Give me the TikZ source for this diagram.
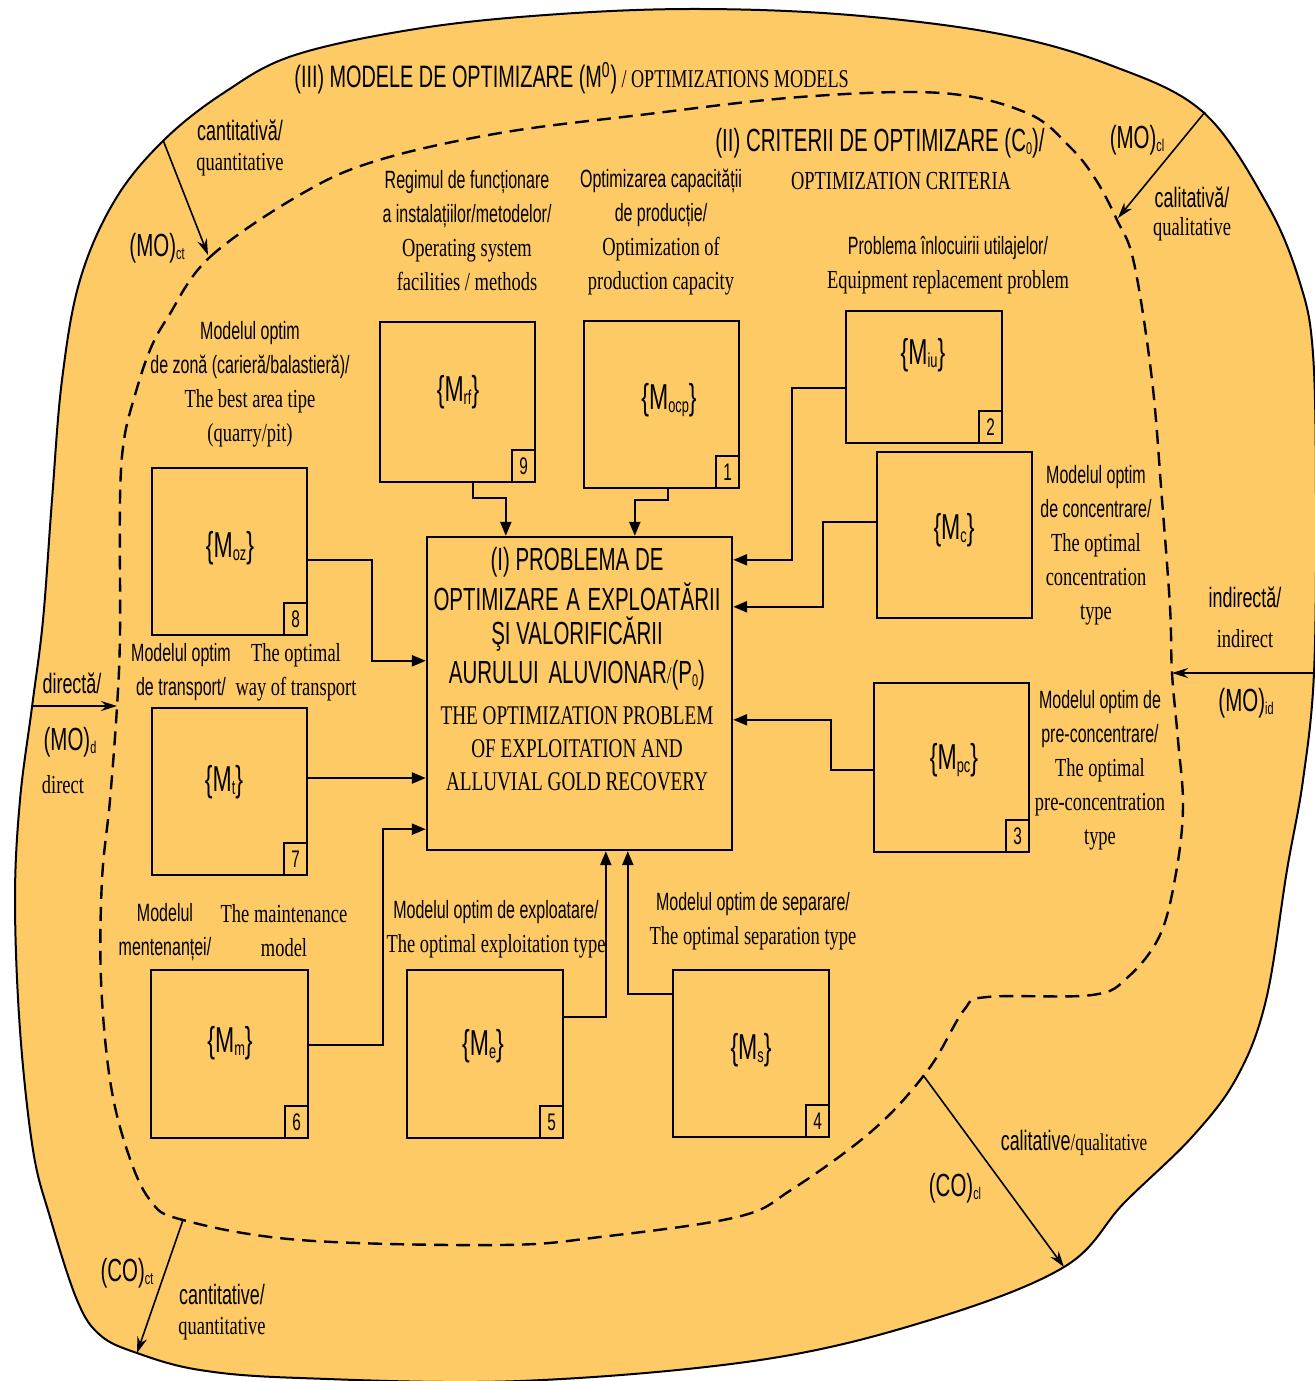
\documentclass[tikz,border=0pt]{standalone}
\usepackage{fontspec}
\usetikzlibrary{arrows.meta,calc}
\newfontfamily\lsansf[FakeStretch=0.64]{Liberation Sans}
\newfontfamily\lseriff[FakeStretch=0.71]{Liberation Serif}
\newcommand\lsans{\lsansf\fontsize{12.5}{17}\selectfont}
\newcommand\lserif{\lseriff\fontsize{13}{17}\selectfont}
\newcommand\lsansL{\lsansf\fontsize{16}{17}\selectfont}
\newcommand\lsansM{\lsansf\fontsize{14}{17}\selectfont}
\newcommand\lserifC{\lseriff\fontsize{13.5}{17}\selectfont}
\newcommand\sbs[1]{\raisebox{-1.5pt}{\fontsize{8.5}{8.5}\selectfont #1}}
\newcommand\mlab[1]{\lsansf\fontsize{18}{18}\selectfont\{M\raisebox{-1.5pt}{\fontsize{10}{10}\selectfont #1}\}}
\definecolor{bg}{RGB}{253,202,102}
\begin{document}
\begin{tikzpicture}[x=0.5pt,y=-0.5pt,
  box/.style={draw, line width=1.2pt, inner sep=0pt},
  numbox/.style={draw, line width=1.1pt, inner sep=0pt, minimum width=11.5pt, minimum height=16pt, anchor=south east, font=\lsansf\fontsize{12}{12}\selectfont},
  conn/.style={line width=1.2pt, -{Triangle[length=7pt,width=5.5pt]}},
  outarr/.style={line width=0.8pt, -{Stealth[length=8pt,width=5pt]}},
  dashline/.style={line width=1.2pt, dash pattern=on 7pt off 4pt},
  txt/.style={align=center, inner sep=0pt, font=\lsans}]
\useasboundingbox (0,0) rectangle (1314,1381);
\fill[white] (0,0) rectangle (1314,1381);
% outer region
\filldraw[fill=bg, draw=black, line width=1pt] plot[smooth cycle, tension=0.6] coordinates {
 (15,900) (20,800) (32,707) (43,620) (52,500) (62,380) (80,280) (115,200) (164,140) (225,92) (295,55) (422,28) (560,14) (700,9) (850,15) (1000,34) (1110,65) (1203,112) (1267,204) (1300,283) (1313,354) (1316,500) (1314,673) (1303,780) (1287,870) (1266,1000) (1237,1077) (1192,1137) (1124,1203) (1064,1267) (930,1320) (760,1360) (520,1381) (300,1378) (200,1370) (137,1353) (100,1335) (77,1300) (50,1217) (33,1150) (20,1030)};
% inner dashed region
\draw[dashline] plot[smooth cycle, tension=0.6] coordinates {
 (168,317) (210,257) (303,193) (379,160) (500,133) (640,115) (800,97) (941,93) (1027,113) (1070,147) (1096,180) (1117,220) (1134,263) (1152,380) (1162,500) (1170,607) (1172,673) (1178,740) (1183,807) (1176,873) (1160,935) (1128,977) (1092,995) (987,997) (964,1010) (928,1070) (873,1130) (791,1190) (737,1217) (600,1237) (500,1245) (300,1240) (183,1220) (150,1200) (127,1150) (110,1080) (101,980) (102,880) (110,800) (117,707) (120,633) (120,500) (124,440) (135,395) (150,350)};

% boxes
\node[box, minimum width=152.5pt, minimum height=156.5pt] (P) at (579.5,693.5) {};
\node[box, minimum width=77.5pt, minimum height=80pt] (m9) at (457.5,402) {};
\node[box, minimum width=77.5pt, minimum height=83.5pt] (m1) at (661.5,404.5) {};
\node[box, minimum width=78pt, minimum height=66pt] (m2) at (924,377) {};
\node[box, minimum width=77.5pt, minimum height=83pt] (mc) at (954.5,535) {};
\node[box, minimum width=77.5pt, minimum height=84.5pt] (m3) at (951.5,767.5) {};
\node[box, minimum width=78pt, minimum height=83.5pt] (m4) at (751,1053.5) {};
\node[box, minimum width=78pt, minimum height=84pt] (m5) at (485,1054) {};
\node[box, minimum width=78.5pt, minimum height=84pt] (m6) at (229.5,1054) {};
\node[box, minimum width=77.5pt, minimum height=83.5pt] (m7) at (229.5,791.5) {};
\node[box, minimum width=77.5pt, minimum height=83.5pt] (m8) at (229.5,551.5) {};

\node[numbox] (n9) at (m9.south east) {9};
\node[numbox] (n1) at (m1.south east) {1};
\node[numbox] (n2) at (m2.south east) {2};
\node[numbox] (n3) at (m3.south east) {3};
\node[numbox] (n4) at (m4.south east) {4};
\node[numbox] (n5) at (m5.south east) {5};
\node[numbox] (n6) at (m6.south east) {6};
\node[numbox] (n7) at (m7.south east) {7};
\node[numbox] (n8) at (m8.south east) {8};

\node[txt] (l9) at (458,392) {\mlab{rf}};
\node[txt] (l1) at (669,400) {\mlab{ocp}};
\node[txt] (l2) at (923,355) {\mlab{iu}};
\node[txt] (lc) at (954,530) {\mlab{c}};
\node[txt] (l3) at (954,760) {\mlab{pc}};
\node[txt] (l4) at (751,1050) {\mlab{s}};
\node[txt] (l5) at (483,1046) {\mlab{e}};
\node[txt] (l6) at (230,1043) {\mlab{m}};
\node[txt] (l7) at (224,782) {\mlab{t}};
\node[txt] (l8) at (230,548) {\mlab{oz}};

% connectors into P
\draw[conn] ($(m9.south west)+(94,0)$) -- ++(0,15) -| ($(P.north west)+(80,0)$);
\draw[conn] ($(m1.south west)+(85,0)$) -- ++(0,11) -| ($(P.north west)+(209,0)$);
\draw[conn] ($(m2.west)+(0,11)$) -- ++(-53,0) |- ($(P.north east)+(0,24)$);
\draw[conn] ($(mc.west)+(0,-13)$) -- ++(-53,0) |- ($(P.north east)+(0,71)$);
\draw[conn] ($(m3.west)+(0,2.5)$) -- ++(-42,0) |- ($(P.north east)+(0,184)$);
\draw[conn] ($(m8.east)+(0,8.5)$) -- ++(64,0) |- ($(P.north west)+(0,125)$);
\draw[conn] ($(m7.east)+(0,-13.5)$) coordinate (t7) -- (t7 -| P.west);
\draw[conn] ($(m6.east)+(0,-9)$) -- ++(74,0) |- ($(P.south west)+(0,-22)$);
\draw[conn] ($(m5.east)+(0,-37)$) -| ($(P.south west)+(180,0)$);
\draw[conn] ($(m4.west)+(0,-59.5)$) -| ($(P.south west)+(202,0)$);

% outer arrows
\coordinate (a1s) at (163,140); \coordinate (a1e) at (208,255);
\coordinate (a2s) at (1205,112); \coordinate (a2e) at (1118,218);
\coordinate (a3s) at (1314,673); \coordinate (a3e) at (1172,673);
\coordinate (a4s) at (33,706); \coordinate (a4e) at (117,706);
\coordinate (a5s) at (923,1075); \coordinate (a5e) at (1064,1267);
\coordinate (a6s) at (183,1220); \coordinate (a6e) at (137,1353);
\draw[outarr] (a1s) -- (a1e);
\draw[outarr] (a2s) -- (a2e);
\draw[outarr] (a3s) -- (a3e);
\draw[outarr] (a4s) -- (a4e);
\draw[outarr] (a5s) -- (a5e);
\draw[outarr] (a6s) -- (a6e);

% central text
\node[txt, font=\lsansL] (ptext) at (577,669) {\lsansL (I) PROBLEMA DE\\[1.5pt] \lsansL OPTIMIZARE\hspace{1pt} A\hspace{1pt} EXPLOATĂRII\\[0pt] \lsansL ŞI VALORIFICĂRII\\[2.5pt] \lsansL AURULUI\hspace{2pt} ALUVIONAR{\lseriff\fontsize{12}{12}\selectfont/}(P\sbs{0})\\[3.5pt] \lserifC THE OPTIMIZATION PROBLEM\\[-0.5pt] \lserifC OF EXPLOITATION AND\\[-0.5pt] \lserifC ALLUVIAL GOLD RECOVERY};

% titles
\node[anchor=west, inner sep=0pt] (t3) at (294,78) {\lsansf\fontsize{15.5}{17}\selectfont (III) MODELE DE OPTIMIZARE (M\textsuperscript{0}){\lseriff\fontsize{12.8}{17}\selectfont\,/ OPTIMIZATIONS MODELS}};
\node[txt] (t2) at (880,159) {\lsansL (II) CRITERII DE OPTIMIZARE (C\sbs{0})/\\[2pt] \lserif\hspace*{21pt}OPTIMIZATION CRITERIA};

% labels
\node[txt] (lbrf) at (467,231) {\lsans Regimul de funcționare\\ \lsans a instalațiilor/metodelor/\\ \lserif Operating system\\ \lserif facilities / methods};
\node[txt] (lbocp) at (661,232) {\lsans Optimizarea capacității\\ \lsans de producție/\\ \lserif Optimization of\\ \lserif production capacity};
\node[txt] (lbiu) at (948,265) {\lsans Problema înlocuirii\ utilajelor/\\ \lserif Equipment replacement problem};
\node[txt] (lboz) at (250,384) {\lsans Modelul optim\\ \lsans de zonă (carieră/balastieră)/\\ \lserif The best area tipe\\ \lserif (quarry/pit)};
\node[txt] (lbc) at (1096,545) {\lsans Modelul optim\\ \lsans de concentrare/\\ \lserif The optimal\\ \lserif concentration\\ \lserif type};
\node[txt] (lbpc) at (1100,770) {\lsans Modelul optim de\\ \lsans pre-concentrare/\\ \lserif The optimal\\ \lserif pre-concentration\\ \lserif type};
\node[txt] (lbt1) at (181,672) {\lsans Modelul optim\\ \lsans de transport/};
\node[txt] (lbt2) at (296,672) {\lserif The optimal\\ \lserif way of transport};
\node[txt] (lbm1) at (165,932) {\lsans Modelul\\ \lsans mentenanței/};
\node[txt] (lbm2) at (284,931) {\lserif The maintenance\\ \lserif model};
\node[txt] (lbe) at (496,929) {\lsans Modelul optim de exploatare/\\ \lserif The optimal exploitation type};
\node[txt] (lbs) at (753,921) {\lsans Modelul optim de separare/\\ \lserif The optimal separation type};

% outer labels
\node[txt] (q1) at (240,148) {\lsansM cantitativă/\\[-2pt] \lserif quantitative};
\node[txt] (q2) at (157,248) {\lsansL (MO)\sbs{ct}};
\node[txt] (q3) at (1137,140) {\lsansL (MO)\sbs{cl}};
\node[txt] (q4) at (1192,214) {\lsansM calitativă/\\[-3pt] \lserif qualitative};
\node[txt] (q5) at (1245,617) {\lsansM indirectă/\\[3pt] \lserif indirect};
\node[txt] (q6) at (1246,703) {\lsansL (MO)\sbs{id}};
\node[txt] (q7) at (72,683) {\lsansM directă/};
\node[txt] (q8) at (70,742) {\lsansL (MO)\sbs{d}};
\node[txt] (q9) at (63,785) {\lserif direct};
\node[txt] (q10) at (1074,1143) {\lsansM calitative{\lseriff\fontsize{12}{12}\selectfont/qualitative}};
\node[txt] (q11) at (955,1188) {\lsansL (CO)\sbs{cl}};
\node[txt] (q12) at (127,1273) {\lsansL (CO)\sbs{ct}};
\node[txt] (q13) at (222,1312) {\lsansM cantitative/\\[-2pt] \lserif quantitative};
\end{tikzpicture}
\end{document}
